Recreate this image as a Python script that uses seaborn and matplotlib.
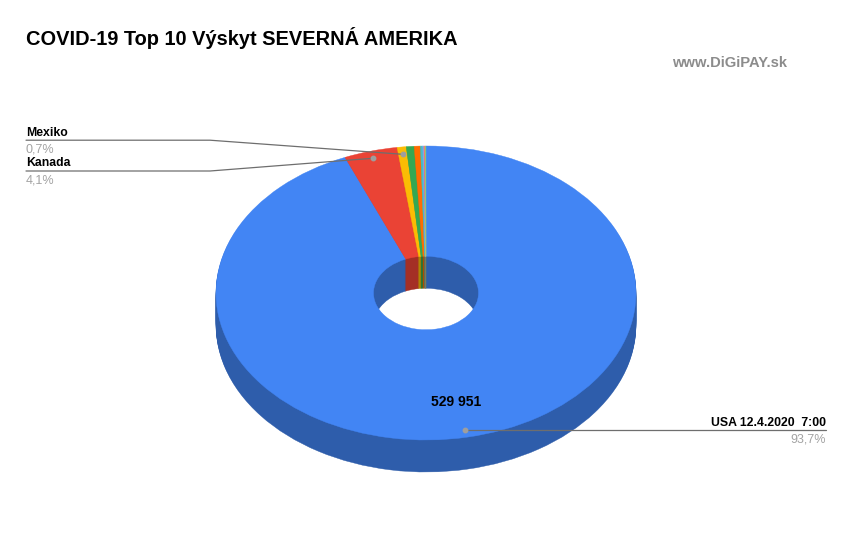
import numpy as np
import matplotlib
matplotlib.use('Agg')
import matplotlib.pyplot as plt
import seaborn as sns

countries = ['USA 12.4.2020  7:00', 'Kanada', 'Mexiko', 'Krajina 4', 'Krajina 5',
             'Krajina 6', 'Krajina 7', 'Krajina 8', 'Krajina 9', 'Krajina 10']
cases = [529951, 23188, 3959, 3400, 2700, 1000, 500, 500, 250, 135]
slice_colors = ['#4285f4', '#ea4335', '#fbbc04', '#34a853', '#ff6d01',
                '#46bdc6', '#7baaf7', '#f07b72', '#fcd04f', '#71c287']
usa_value_label = '529 951'
usa_share = '93,7%'
canada_share = '4,1%'
mexico_share = '0,7%'

sns.set_theme(style='white')
plt.rcParams['font.family'] = ['Liberation Sans', 'DejaVu Sans']

W, H = 852, 547
squash = 0.7      # tilt of the donut
depth = 32        # height of the side wall in pixels
cx, cy = 426, 293
radius = 210
hole = 0.25

palette = sns.color_palette(slice_colors)
dark = [tuple(c * 0.7 for c in col) for col in palette]

fig = plt.figure(figsize=(W / 100, H / 100), dpi=100)
ax = fig.add_axes([0, 0, 1, 1])


def draw_layer(y_px, colors):
    wedges, _ = ax.pie(cases, colors=colors, startangle=90, counterclock=False, radius=radius,
                       center=(cx, (H - y_px) / squash),
                       wedgeprops=dict(width=radius * (1 - hole), linewidth=0.3))
    for w in wedges:
        w.set_edgecolor(w.get_facecolor())


# side wall is a stack of dark pies, top surface goes last
for d in range(depth, 0, -1):
    draw_layer(cy + d, dark)
draw_layer(cy, palette)

ax.set_aspect('auto')
ax.set_xlim(0, W)
ax.set_ylim(0, H / squash)

# overlay in pixel coordinates for the text and leader lines
over = fig.add_axes([0, 0, 1, 1])
over.patch.set_alpha(0)
over.set_xlim(0, W)
over.set_ylim(H, 0)
over.axis('off')

over.text(26, 38, 'COVID-19 Top 10 Výskyt SEVERNÁ AMERIKA', fontsize=14.4, fontweight='bold',
          color='black', va='center', ha='left')
over.text(787, 63, 'www.DiGiPAY.sk', fontsize=10.6, fontweight='bold', color='#8c8c8c',
          va='center', ha='right')

line_col = '#6e6e6e'
dot_col = '#9e9e9e'
grey_txt = '#a3a3a3'

# Mexiko
over.plot([26, 210, 402.7], [140.2, 140.2, 154.3], color=line_col, lw=0.9)
over.plot([402.7], [154.3], 'o', color=dot_col, ms=3.2)
over.text(26, 132.5, countries[2], fontsize=8.8, fontweight='bold', color='black', va='center')
over.text(26, 149.5, mexico_share, fontsize=9, color=grey_txt, va='center')

# Kanada
over.plot([26, 210, 372.7], [171, 171, 158.3], color=line_col, lw=0.9)
over.plot([372.7], [158.3], 'o', color=dot_col, ms=3.2)
over.text(26, 163.5, countries[1], fontsize=8.8, fontweight='bold', color='black', va='center')
over.text(26, 180.5, canada_share, fontsize=9, color=grey_txt, va='center')

# USA
over.plot([465, 826], [430.2, 430.2], color=line_col, lw=0.9)
over.plot([465], [430.2], 'o', color=dot_col, ms=3.2)
over.text(826, 422.5, countries[0], fontsize=8.8, fontweight='bold', color='black', va='center', ha='right')
over.text(826, 439.5, usa_share, fontsize=9, color=grey_txt, va='center', ha='right')

over.text(456.5, 401.5, usa_value_label, fontsize=10, fontweight='bold', color='black',
          va='center', ha='center')

fig.savefig('out.png', dpi=100, facecolor='white')
